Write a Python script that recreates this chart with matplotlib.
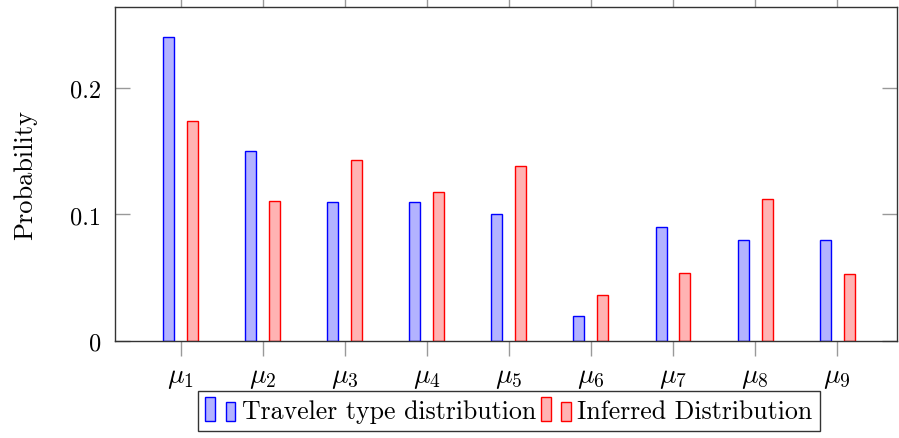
import numpy as np
import matplotlib
matplotlib.use('Agg')
from matplotlib import pyplot as plt
from matplotlib.patches import Rectangle, Patch
from matplotlib.legend_handler import HandlerBase

plt.rcParams['font.family'] = 'cmr10'
plt.rcParams['mathtext.fontset'] = 'cm'
plt.rcParams['axes.formatter.use_mathtext'] = True

# data
categories = [r'$\mu_{%d}$' % i for i in range(1, 10)]
traveler = [0.240, 0.150, 0.110, 0.110, 0.100, 0.020, 0.090, 0.080, 0.080]
inferred = [0.1737, 0.111, 0.143, 0.118, 0.138, 0.0364, 0.054, 0.1125, 0.053]
yticks = [0, 0.1, 0.2]
ytick_labels = ['0', '0.1', '0.2']

blue_fill = '#b3b3ff'
red_fill = '#ffb3b3'


# pgfplots-style legend image: two small bars
class BarPair(HandlerBase):
    def create_artists(self, legend, orig_handle, xdescent, ydescent,
                       width, height, fontsize, trans):
        fc = orig_handle.get_facecolor()
        ec = orig_handle.get_edgecolor()
        w = width * 0.32
        r1 = Rectangle((-xdescent, -ydescent - height * 0.15), w, height * 1.3,
                       facecolor=fc, edgecolor=ec, lw=1, transform=trans)
        r2 = Rectangle((-xdescent + width * 0.68, -ydescent - height * 0.15), w, height * 1.05,
                       facecolor=fc, edgecolor=ec, lw=1, transform=trans)
        return [r1, r2]


fig = plt.figure(figsize=(8.99, 4.39), dpi=100)
ax = fig.add_axes([115 / 899, 97 / 439, 782 / 899, 334 / 439])

x = np.arange(1, len(categories) + 1)
off = 0.146
bw = 0.134
ax.bar(x - off, traveler, bw, color=blue_fill, edgecolor='blue', lw=1)
ax.bar(x + off, inferred, bw, color=red_fill, edgecolor='red', lw=1)

ax.set_xlim(0.2, 9.73)
ax.set_ylim(0, 0.264)
ax.set_xticks(x)
ax.set_xticklabels(categories, fontsize=20)
ax.set_yticks(yticks)
ax.set_yticklabels(ytick_labels, fontsize=17.5)

ax.tick_params(axis='x', direction='out', top=True, length=11, width=1,
               color='#999999', pad=5)
ax.tick_params(axis='y', direction='in', right=True, length=11, width=1,
               color='#999999', pad=10)
for s in ax.spines.values():
    s.set_linewidth(1)
    s.set_color('#333333')

ax.set_ylabel('Probability', fontsize=19, labelpad=24)

handles = [Patch(facecolor=blue_fill, edgecolor='blue'),
           Patch(facecolor=red_fill, edgecolor='red')]
leg = fig.legend(handles, ['Traveler type distribution', 'Inferred Distribution'],
                 handler_map={Patch: BarPair()}, loc='center',
                 bbox_to_anchor=(509 / 899, 1 - 412 / 439), ncol=2,
                 fontsize=18.6, frameon=True, fancybox=False, edgecolor='black',
                 handlelength=1.15, handletextpad=0.25, columnspacing=0.2,
                 borderpad=0.3, borderaxespad=0)
leg.get_frame().set_linewidth(1)

fig.savefig('out.png', dpi=100)
